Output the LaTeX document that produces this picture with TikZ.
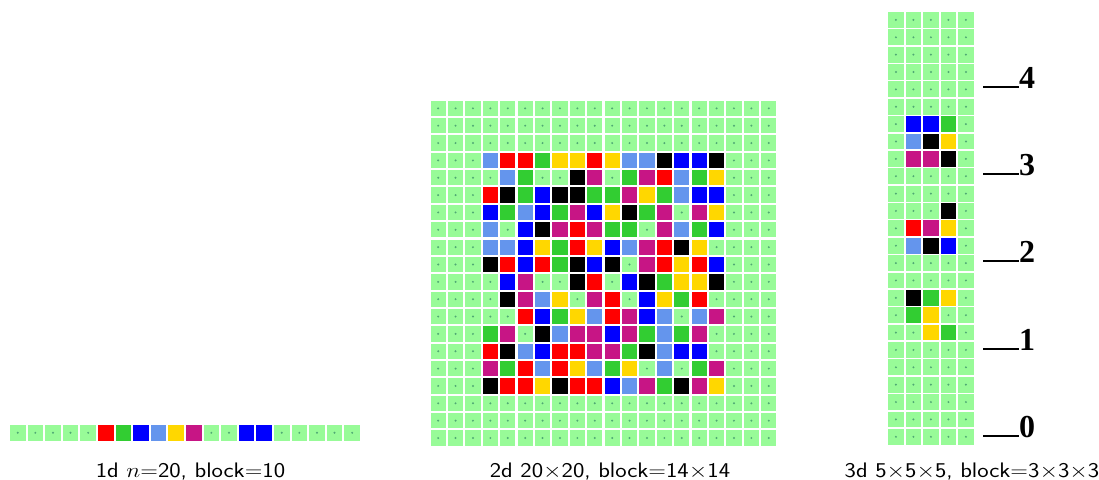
\documentclass[tikz,border=0pt]{standalone}
\usepackage{fontspec}
\newfontfamily\labfont{Liberation Serif}
\definecolor{cE}{HTML}{98FB98}
\definecolor{cR}{HTML}{FF0000}
\definecolor{cG}{HTML}{32CD32}
\definecolor{cB}{HTML}{0000FF}
\definecolor{cL}{HTML}{6495ED}
\definecolor{cY}{HTML}{FFD700}
\definecolor{cM}{HTML}{C71585}
\definecolor{cK}{HTML}{000000}
\definecolor{dotc}{HTML}{4FA874}
\newcount\cellidx
\makeatletter
\newcommand\drawcell[3]{%
  \if#3o%
    \fill[cE] (#1,#2) rectangle ++(\cellsz,\cellsz);
    \fill[dotc] ({#1+\cellsz/2},{#2+\cellsz/2}) circle[radius=1.1pt];
  \else
    \fill[c#3] (#1,#2) rectangle ++(\cellsz,\cellsz);
  \fi}
\def\cr@do{\@tfor\cr@c:=}
\newcommand\cellrow[4]{% x0, y, pitch, string
  \cellidx=0
  \edef\cr@str{#4}%
  \expandafter\cr@do\cr@str\do{%
    \pgfmathsetmacro\cr@xx{#1+\the\cellidx*#3}%
    \drawcell{\cr@xx}{#2}{\cr@c}%
    \advance\cellidx by 1 }}
\makeatother
\tikzset{
  caption/.style={anchor=base,font=\sffamily\fontsize{21}{23}\selectfont,inner sep=0pt,xscale=1.15,transform shape},
  levellab/.style={anchor=base west,font=\labfont\bfseries\fontsize{32}{34}\selectfont,inner sep=0pt},
  levelline/.style={line width=2.4pt,black}
}
\begin{document}
\begin{tikzpicture}[x=1pt,y=-1pt]
\useasboundingbox (0,0) rectangle (1099,479);
\fill[white] (0,0) rectangle (1099,479);
% ---------- 1d ----------
\def\cellsz{15.5}
\cellrow{10}{425}{17.6}{oooooRGBLYMooBBooooo}
% ---------- 2d ----------
\def\cellsz{15.3}
\def\pp{17.4}
\def\gx{430.5}
\foreach \r/\s in {0/oooooooooooooooooooo,1/oooooooooooooooooooo,2/oooooooooooooooooooo,
  3/oooLRRGYYRYLLKBBKooo,4/ooooLGooKMoGMRLGYooo,5/oooRKGBKKGGMYGLBBooo,
  6/oooBGLBGMBYKGMoMYooo,7/oooLoBKMRMGGoMLGBooo,8/oooLLBYGRYBLMRKYoooo,
  9/oooKRBRGKBKoMRYRBooo,10/ooooBMooKRoBKGYYKooo,11/ooooKMLYoMRoBYGRoooo,
  12/oooooRBGYLRMBLoLMooo,13/oooGMoKLMMBMGLGMoooo,14/oooRKLBRRMMGKLBBoooo,
  15/oooMGRLRYLGYoLoGMooo,16/oooKRRYKRRBLMGKMYooo,17/oooooooooooooooooooo,
  18/oooooooooooooooooooo,19/oooooooooooooooooooo}{
  \pgfmathsetmacro\yy{100.7+\r*17.35}
  \cellrow{\gx}{\yy}{\pp}{\s}
}
% ---------- 3d ----------
\def\cellsz{15.8}
\foreach \r/\s in {0/ooooo,1/ooooo,2/ooooo,3/ooooo,4/ooooo,5/ooooo,
  6/oBBGo,7/oLKYo,8/oMMKo,9/ooooo,10/ooooo,11/oooKo,12/oRMYo,13/oLKBo,
  14/ooooo,15/ooooo,16/oKGYo,17/oGYoo,18/ooYGo,19/ooooo,20/ooooo,
  21/ooooo,22/ooooo,23/ooooo,24/ooooo}{
  \pgfmathsetmacro\yy{12+\r*17.37}
  \cellrow{888}{\yy}{17.5}{\s}
}
% ---------- level labels ----------
\foreach \k/\yb in {4/88,3/175,2/262,1/350,0/437}{
  \node[levellab] (lab\k) at (1019,\yb) {\k};
  \coordinate (ls\k) at (983,\yb-1);
  \draw[levelline] (ls\k) -- ([yshift=1pt]lab\k.base west);
}
% ---------- captions ----------
\node[caption] (cap1) at (190.5,477) {1d $n$=20, block=10};
\node[caption] (cap2) at (610,477) {2d 20$\times$20, block=14$\times$14};
\node[caption] (cap3) at (972,477) {3d 5$\times$5$\times$5, block=3$\times$3$\times$3};
\end{tikzpicture}
\end{document}
